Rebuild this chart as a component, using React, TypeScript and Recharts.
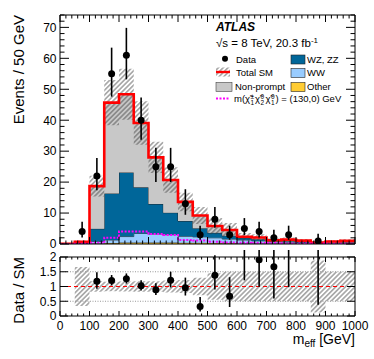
import React from 'react';
import { Area, ComposedChart, ErrorBar, Line, ReferenceLine, Scatter, XAxis, YAxis } from 'recharts';

// m_eff bins, 50 GeV wide
const binLow = [0, 50, 100, 150, 200, 250, 300, 350, 400, 450, 500, 550, 600, 650, 700, 750, 800, 850, 900, 950];
const lastEdge = 1000;

// background stack, bottom to top
const otherBkg = [0, 0.05, 0.2, 0.3, 0.5, 0.5, 0.5, 0.5, 0.4, 0.4, 0.3, 0.3, 0.2, 0.2, 0.15, 0.15, 0.1, 0.05, 0.1, 0.1];
const wwBkg = [0, 0.15, 0.6, 1.0, 1.9, 2.9, 2.7, 2.5, 2.1, 1.9, 1.7, 1.3, 1.1, 0.8, 0.55, 0.45, 0.4, 0.15, 0.2, 0.3];
const wzzzBkg = [0, 0.1, 4.1, 15.0, 20.7, 14.9, 9.7, 7.1, 4.9, 2.8, 1.6, 1.1, 0.7, 0.5, 0.2, 0.3, 0.2, 0.1, 0.2, 0.2];
const nonPromptBkg = [0.1, 0.4, 13.8, 29.4, 25.3, 20.8, 15.1, 10.6, 6.2, 4.1, 2.2, 1.8, 0.35, 0.6, 0.3, 0.5, 0.4, 0.15, 0.3, 0.4];
const relUnc = [0, 0.66, 0.18, 0.16, 0.17, 0.18, 0.18, 0.2, 0.22, 0.3, 0.45, 0.5, 0.5, 0.5, 0.5, 0.5, 0.5, 0.88, 0.5, 0.5];

// signal m(C1N2, N1) = (130,0) GeV
const signal = [0, 0.1, 0.4, 2.0, 4.0, 4.0, 3.2, 2.9, 1.3, 1.1, 0.7, 0.5, 0.4, 0.3, 0.3, 0.2, 0.2, 0.15, 0.1, 0.1];

// observed data with poisson intervals
const dataCounts = [0, 4, 22, 55, 61, 40, 25, 25, 13, 3, 8, 3, 5, 4, 2, 3, 0, 1, 0, 0];
const dataErrDown = [0, 1.91, 4.66, 7.39, 7.78, 6.3, 4.97, 4.97, 3.56, 1.63, 2.77, 1.63, 2.16, 1.91, 1.29, 1.63, 0, 0.83, 0, 0];
const dataErrUp = [0, 3.16, 5.76, 8.45, 8.84, 7.36, 6.07, 6.07, 4.7, 2.92, 3.95, 2.92, 3.38, 3.16, 2.64, 2.92, 0, 2.3, 0, 0];

const xMajorTicks = [0, 100, 200, 300, 400, 500, 600, 700, 800, 900, 1000];
const yTopLabels = [0, 10, 20, 30, 40, 50, 60, 70];
const yRatioLabels = [0, 0.5, 1, 1.5, 2];

const xTicks = Array.from({ length: 51 }, (_, i) => i * 20);
const yTopTicks = Array.from({ length: 38 }, (_, i) => i * 2);

const COL = {
  other: '#ffcc33',
  ww: '#99ccff',
  wz: '#006699',
  np: '#c8c8c8',
  red: '#ff0000',
  sig: '#ff00ff',
};

const FONT = '"Liberation Sans", Arial, Helvetica, sans-serif';

const edges = [...binLow, lastEdge];
const histRows = edges.map((x, i) => {
  const b = Math.min(i, binLow.length - 1);
  const total = otherBkg[b] + wwBkg[b] + wzzzBkg[b] + nonPromptBkg[b];
  return {
    x,
    other: otherBkg[b],
    ww: wwBkg[b],
    wz: wzzzBkg[b],
    np: nonPromptBkg[b],
    total,
    band: [total * (1 - relUnc[b]), total * (1 + relUnc[b])],
    rband: [1 - relUnc[b], 1 + relUnc[b]],
    sig: signal[b],
  };
});

const dataPoints = binLow
  .map((lo, i) => ({ x: lo + 25, y: dataCounts[i], err: [dataErrDown[i], dataErrUp[i]] }))
  .filter((p) => p.y > 0);

const ratioPoints = binLow
  .map((lo, i) => {
    const t = histRows[i].total;
    return { x: lo + 25, y: dataCounts[i] / t, err: [dataErrDown[i] / t, dataErrUp[i] / t] };
  })
  .filter((p, i) => dataCounts[i] > 0);

function xTick(side: 'top' | 'bottom', majorLen: number, minorLen: number, labels: boolean) {
  return (props: any) => {
    const { x, y, payload } = props;
    const v = payload.value;
    const major = xMajorTicks.includes(v);
    const dir = side === 'bottom' ? -1 : 1;
    return (
      <g>
        <line x1={x} x2={x} y1={y} y2={y + dir * (major ? majorLen : minorLen)} stroke="#000" strokeWidth={1} />
        {labels && major && (
          <text x={x} y={y + 13.5} textAnchor="middle" fontSize={12} fontFamily={FONT} fill="#000">
            {v}
          </text>
        )}
      </g>
    );
  };
}

function yTick(side: 'left' | 'right', labelSet: number[], majorLen: number, minorLen: number, labels: boolean) {
  return (props: any) => {
    const { x, y, payload } = props;
    const v = payload.value;
    const major = labelSet.includes(v);
    const dir = side === 'left' ? 1 : -1;
    return (
      <g>
        <line x1={x} x2={x + dir * (major ? majorLen : minorLen)} y1={y} y2={y} stroke="#000" strokeWidth={1} />
        {labels && major && (
          <text x={x - 3.5} y={y + 4.3} textAnchor="end" fontSize={12} fontFamily={FONT} fill="#000">
            {v}
          </text>
        )}
      </g>
    );
  };
}

function Hatch({ id }: { id: string }) {
  return (
    <pattern id={id} patternUnits="userSpaceOnUse" width={3.4} height={3.4} patternTransform="rotate(45)">
      <line x1={1.7} y1={0} x2={1.7} y2={3.4} stroke="#3a3a3a" strokeWidth={0.75} />
    </pattern>
  );
}

function MainPanel() {
  return (
    <ComposedChart width={374} height={250} data={histRows} margin={{ top: 0, right: 0, bottom: 0, left: 0 }}>
      <defs>
        <Hatch id="hatchMain" />
      </defs>
      <XAxis xAxisId="b" dataKey="x" type="number" domain={[0, 1000]} allowDataOverflow ticks={xTicks} interval={0}
        height={6} tickSize={0} tickMargin={0} tickLine={false} axisLine={{ stroke: '#000' }} tick={xTick('bottom', 7, 3.5, false)} />
      <XAxis xAxisId="t" orientation="top" dataKey="x" type="number" domain={[0, 1000]} allowDataOverflow ticks={xTicks} interval={0}
        height={15} tickSize={0} tickMargin={0} tickLine={false} axisLine={{ stroke: '#000' }} tick={xTick('top', 7, 3.5, false)} />
      <YAxis yAxisId="l" type="number" domain={[0, 74]} allowDataOverflow ticks={yTopTicks} interval={0}
        width={60} tickSize={0} tickMargin={0} tickLine={false} axisLine={{ stroke: '#000' }} tick={yTick('left', yTopLabels, 9, 4.5, true)} />
      <YAxis yAxisId="r" orientation="right" type="number" domain={[0, 74]} allowDataOverflow ticks={yTopTicks} interval={0}
        width={19} tickSize={0} tickMargin={0} tickLine={false} axisLine={{ stroke: '#000' }} tick={yTick('right', yTopLabels, 9, 4.5, false)} />

      <Area xAxisId="b" yAxisId="l" dataKey="other" stackId="sm" type="stepAfter" fill={COL.other} fillOpacity={1} stroke="#222" strokeWidth={0.8} isAnimationActive={false} />
      <Area xAxisId="b" yAxisId="l" dataKey="ww" stackId="sm" type="stepAfter" fill={COL.ww} fillOpacity={1} stroke="#222" strokeWidth={0.8} isAnimationActive={false} />
      <Area xAxisId="b" yAxisId="l" dataKey="wz" stackId="sm" type="stepAfter" fill={COL.wz} fillOpacity={1} stroke="#222" strokeWidth={0.8} isAnimationActive={false} />
      <Area xAxisId="b" yAxisId="l" dataKey="np" stackId="sm" type="stepAfter" fill={COL.np} fillOpacity={1} stroke="#222" strokeWidth={0.8} isAnimationActive={false} />
      <Area xAxisId="b" yAxisId="l" dataKey="band" type="stepAfter" fill="url(#hatchMain)" fillOpacity={1} stroke="none" isAnimationActive={false} />
      <Line xAxisId="b" yAxisId="l" dataKey="total" type="stepAfter" stroke={COL.red} strokeWidth={2.6} dot={false} activeDot={false} isAnimationActive={false} />
      <Line xAxisId="b" yAxisId="l" dataKey="sig" type="stepAfter" stroke={COL.sig} strokeWidth={2} strokeDasharray="2 1.5" dot={false} activeDot={false} isAnimationActive={false} />
      <Scatter xAxisId="b" yAxisId="l" data={dataPoints} dataKey="y" isAnimationActive={false}
        shape={(p: any) => <circle cx={p.cx} cy={p.cy} r={3.5} fill="#000" />}>
        <ErrorBar dataKey="err" direction="y" width={0} stroke="#000" strokeWidth={1.6} />
      </Scatter>
    </ComposedChart>
  );
}

function RatioPanel() {
  return (
    <ComposedChart width={374} height={109} data={histRows} margin={{ top: 0, right: 0, bottom: 0, left: 0 }}>
      <defs>
        <Hatch id="hatchRatio" />
      </defs>
      <XAxis xAxisId="b" dataKey="x" type="number" domain={[0, 1000]} allowDataOverflow ticks={xTicks} interval={0}
        height={43} tickSize={0} tickMargin={0} tickLine={false} axisLine={{ stroke: '#000' }} tick={xTick('bottom', 5, 2.5, true)} />
      <XAxis xAxisId="t" orientation="top" dataKey="x" type="number" domain={[0, 1000]} allowDataOverflow ticks={xTicks} interval={0}
        height={7} tickSize={0} tickMargin={0} tickLine={false} axisLine={{ stroke: '#000' }} tick={xTick('top', 5, 2.5, false)} />
      <YAxis yAxisId="l" type="number" domain={[0, 2]} allowDataOverflow ticks={yRatioLabels} interval={0}
        width={60} tickSize={0} tickMargin={0} tickLine={false} axisLine={{ stroke: '#000' }} tick={yTick('left', yRatioLabels, 8, 4, true)} />
      <YAxis yAxisId="r" orientation="right" type="number" domain={[0, 2]} allowDataOverflow ticks={yRatioLabels} interval={0}
        width={19} tickSize={0} tickMargin={0} tickLine={false} axisLine={{ stroke: '#000' }} tick={yTick('right', yRatioLabels, 8, 4, false)} />

      <ReferenceLine xAxisId="b" yAxisId="l" y={0.5} stroke="#999" strokeDasharray="1 1.5" />
      <ReferenceLine xAxisId="b" yAxisId="l" y={1.5} stroke="#999" strokeDasharray="1 1.5" />
      <Area xAxisId="b" yAxisId="l" dataKey="rband" type="stepAfter" fill="url(#hatchRatio)" fillOpacity={1} stroke="none" isAnimationActive={false} />
      <ReferenceLine xAxisId="b" yAxisId="l" y={1} stroke={COL.red} strokeDasharray="4 3" />
      <Scatter xAxisId="b" yAxisId="l" data={ratioPoints} dataKey="y" isAnimationActive={false}
        shape={(p: any) => <circle cx={p.cx} cy={p.cy} r={3.5} fill="#000" />}>
        <ErrorBar dataKey="err" direction="y" width={0} stroke="#000" strokeWidth={1.6} />
      </Scatter>
    </ComposedChart>
  );
}

function Overlay() {
  const lf = 9.5;
  return (
    <svg width={374} height={359} style={{ position: 'absolute', left: 0, top: 0, pointerEvents: 'none' }} fontFamily={FONT}>
      <defs>
        <Hatch id="hatchLeg" />
      </defs>
      <text transform="translate(24,15) rotate(-90)" textAnchor="end" fontSize={15}>Events / 50 GeV</text>
      <text transform="translate(24,257) rotate(-90)" textAnchor="end" fontSize={15}>Data / SM</text>
      <text x={355} y={344} textAnchor="end" fontSize={14}>
        m<tspan fontSize={10} dy={3}>eff</tspan><tspan dy={-3}> [GeV]</tspan>
      </text>

      <text x={216} y={31} fontSize={12} fontWeight="bold" fontStyle="italic">ATLAS</text>
      <text x={216} y={47} fontSize={11.5}>
        √s = 8 TeV, 20.3 fb<tspan fontSize={8} dy={-4.5}>-1</tspan>
      </text>

      <circle cx={225} cy={58.8} r={3} fill="#000" />
      <text x={236} y={62.5} fontSize={lf}>Data</text>
      <rect x={291} y={55} width={14} height={9} fill={COL.wz} stroke="#222" strokeWidth={0.6} />
      <text x={307} y={62.5} fontSize={lf}>WZ, ZZ</text>

      <rect x={216} y={67.5} width={14} height={9} fill="url(#hatchLeg)" />
      <line x1={216} x2={230} y1={72} y2={72} stroke={COL.red} strokeWidth={2.4} />
      <text x={236} y={76} fontSize={lf}>Total SM</text>
      <rect x={291} y={68.5} width={14} height={9} fill={COL.ww} stroke="#222" strokeWidth={0.6} />
      <text x={307} y={76} fontSize={lf}>WW</text>

      <rect x={216} y={82.5} width={16} height={9} fill={COL.np} stroke="#444" strokeWidth={0.6} />
      <text x={235} y={90} fontSize={lf}>Non-prompt</text>
      <rect x={291} y={82.5} width={14} height={9} fill={COL.other} stroke="#222" strokeWidth={0.6} />
      <text x={307} y={90} fontSize={lf}>Other</text>

      <line x1={216} x2={230} y1={98.5} y2={98.5} stroke={COL.sig} strokeWidth={2} strokeDasharray="2 1.5" />
      <text x={234} y={102} fontSize={lf}>m(</text>
      <text x={245} y={102} fontSize={lf}>χ̃</text>
      <text x={250.5} y={98.5} fontSize={6.5}>±</text>
      <text x={250.5} y={104.5} fontSize={6.5}>1</text>
      <text x={255} y={102} fontSize={lf}>χ̃</text>
      <text x={260.5} y={98.5} fontSize={6.5}>0</text>
      <text x={260.5} y={104.5} fontSize={6.5}>2</text>
      <text x={265.5} y={102} fontSize={lf}>χ̃</text>
      <text x={271} y={98.5} fontSize={6.5}>0</text>
      <text x={271} y={104.5} fontSize={6.5}>1</text>
      <text x={275.5} y={102} fontSize={lf}>) = (130,0) GeV</text>
    </svg>
  );
}

export default function App() {
  return (
    <div style={{ position: 'absolute', left: 0, top: 0, width: 374, height: 359, background: '#fff', fontFamily: FONT }}>
      <div style={{ position: 'absolute', left: 0, top: 0 }}>
        <MainPanel />
      </div>
      <div style={{ position: 'absolute', left: 0, top: 250 }}>
        <RatioPanel />
      </div>
      <Overlay />
    </div>
  );
}
